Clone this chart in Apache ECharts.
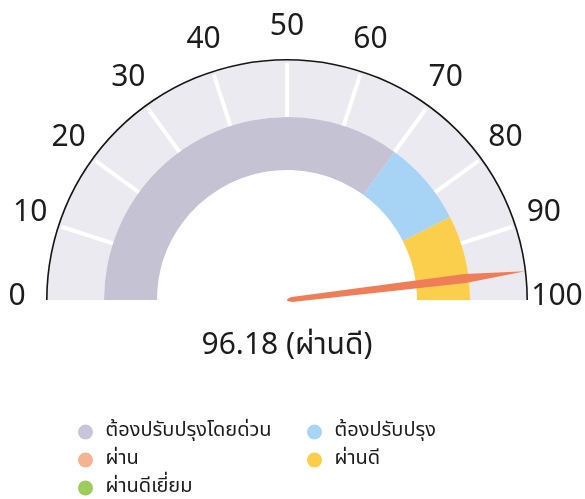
<!DOCTYPE html>
<html><head><meta charset="utf-8">
<script src="https://cdn.jsdelivr.net/npm/echarts@6/dist/echarts.min.js"></script>
<style>html,body{margin:0;padding:0;background:#fff}#c{width:585px;height:499px}</style>
</head><body><div id="c"></div>
<script>
// ---- data ----
const categories = ['ต้องปรับปรุงโดยด่วน', 'ต้องปรับปรุง', 'ผ่าน', 'ผ่านดี', 'ผ่านดีเยี่ยม'];
const categoryColors = ['#c8c5d8', '#a8d4f6', '#f6b391', '#fcce4a', '#9dcb5c'];
const bandEnds = [70, 85, 100];
const bandColors = ['#c5c2d3', '#a7d3f5', '#fbce4b'];
const tickLabels = [0, 10, 20, 30, 40, 50, 60, 70, 80, 90, 100];
const score = 96.18;
const scoreCategory = 'ผ่านดี';

// ---- layout ----
const MIN = tickLabels[0], MAX = tickLabels[tickLabels.length - 1];
const CX = 287, CY = 300, R = 240;
const thaiFont = '"Noto Sans Thai", "Noto Sans Thai UI", "Noto Sans", sans-serif';
const latinFont = '"Noto Sans", sans-serif';
const off = { show: false };
const ang = v => 180 - 180 * (v - MIN) / (MAX - MIN);

function gauge(extra) {
  return Object.assign({
    type: 'gauge', center: [CX, CY], startAngle: 180, endAngle: 0,
    min: MIN, max: MAX, splitNumber: tickLabels.length - 1,
    axisTick: off, splitLine: off, axisLabel: off, pointer: off, anchor: off,
    title: off, detail: off, progress: off, silent: true, animation: false, data: []
  }, extra);
}

const series = [
  gauge({ radius: R, axisLine: { lineStyle: { width: 57, color: [[1, '#ebeaf0']] } } }),
  gauge({ radius: 183, axisLine: { lineStyle: { width: 53,
    color: bandEnds.map((e, i) => [(e - MIN) / (MAX - MIN), bandColors[i]]) } } }),
  gauge({ radius: 237, min: tickLabels[1], max: tickLabels[tickLabels.length - 2],
    startAngle: ang(tickLabels[1]), endAngle: ang(tickLabels[tickLabels.length - 2]),
    splitNumber: tickLabels.length - 3,
    axisLine: { show: false, lineStyle: { width: 0 } },
    splitLine: { show: true, distance: 0, length: 54, lineStyle: { color: '#ffffff', width: 4 } } }),
  gauge({ radius: R + 1, axisLine: { lineStyle: { width: 1.6, color: [[1, '#151515']] } } }),
  gauge({ radius: R, axisLine: { show: false, lineStyle: { width: 0 } },
    pointer: { show: true, icon: 'path://M4.5,0 L9,25 L7,97 Q4.5,101 2,97 L0,25 Z',
      width: 9, length: '100%', offsetCenter: [0, 0], itemStyle: { color: '#ef7e58' } },
    detail: { show: true, offsetCenter: [0, 48], valueAnimation: false,
      formatter: () => score + ' (' + scoreCategory + ')',
      fontSize: 30, fontWeight: 'normal', color: '#1c1c1c', fontFamily: thaiFont },
    data: [{ value: score }] }),
  { type: 'scatter', coordinateSystem: 'polar', clip: false, silent: true, animation: false,
    data: tickLabels.map(v => [1, v]), symbol: 'circle', symbolSize: 1,
    itemStyle: { color: 'rgba(0,0,0,0)', opacity: 1 },
    label: { show: true, position: 'inside', opacity: 1, formatter: p => String(p.value[1]),
      fontSize: 30, color: '#1c1c1c', fontFamily: latinFont } }
].concat(categories.map((c, i) => ({
  type: 'scatter', coordinateSystem: 'polar', name: c, data: [],
  itemStyle: { color: categoryColors[i], opacity: 1 }
})));

const legendCommon = {
  orient: 'vertical', icon: 'circle', itemWidth: 30, itemHeight: 15, itemGap: 6,
  padding: 0, selectedMode: false,
  textStyle: { fontSize: 20, color: '#1c1c1c', fontFamily: thaiFont, lineHeight: 22 }
};

const chart = echarts.init(document.getElementById('c'), null, { renderer: 'canvas' });
chart.setOption({
  backgroundColor: '#ffffff',
  animation: false,
  polar: { center: [CX, CY - 4], radius: 270 },
  angleAxis: { type: 'value', min: MIN, max: MIN + 2 * (MAX - MIN), startAngle: 180, clockwise: true,
    show: false, axisLine: off, axisTick: off, axisLabel: off, splitLine: off },
  radiusAxis: { type: 'value', min: 0, max: 1, show: false, axisLine: off, axisTick: off, axisLabel: off, splitLine: off },
  legend: [
    Object.assign({ data: [categories[0], categories[2], categories[4]], left: 78, top: 421 }, legendCommon),
    Object.assign({ data: [categories[1], categories[3]], left: 307, top: 421 }, legendCommon)
  ],
  series: series
});
</script></body></html>
